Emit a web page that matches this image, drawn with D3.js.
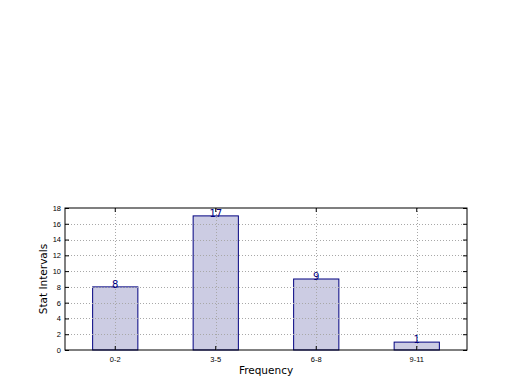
<!DOCTYPE html>
<html>
<head>
<meta charset="utf-8">
<script src="https://cdn.jsdelivr.net/npm/d3@7"></script>
<style>
  body { margin: 0; background: #fff; }
  svg { font-family: "DejaVu Sans", sans-serif; }
</style>
</head>
<body>
<div id="chart"></div>
<script>
// data
var categories = ["0-2", "3-5", "6-8", "9-11"];
var counts = [8, 17, 9, 1];
var yTicks = [0, 2, 4, 6, 8, 10, 12, 14, 16, 18];

var margin = {top: 208, right: 53, bottom: 40, left: 65},
    width = 520 - margin.left - margin.right,
    height = 390 - margin.top - margin.bottom;

var svg = d3.select("#chart")
  .append("svg")
    .attr("width", 520)
    .attr("height", 390)
  .append("g")
    .attr("transform", "translate(" + margin.left + "," + margin.top + ")");

// x as band over the 4 categories, bars 45% of a slot
var x = d3.scaleBand()
  .domain(categories)
  .range([0, width])
  .paddingInner(0)
  .paddingOuter(0);

var y = d3.scaleLinear()
  .domain([0, 18])
  .range([height, 0]);

var barW = x.bandwidth() * 0.45;

// bars
svg.append("g")
  .selectAll("rect")
  .data(counts)
  .enter()
  .append("rect")
    .attr("x", (d, i) => x(categories[i]) + x.bandwidth() / 2 - barW / 2)
    .attr("y", d => y(d))
    .attr("width", barW)
    .attr("height", d => height - y(d))
    .style("fill", "#ccccE3")
    .style("stroke", "#000080")
    .style("stroke-width", 1);

// grid over bars, dotted
var grid = svg.append("g");
grid.selectAll(".hg")
  .data(yTicks.slice(1, -1))
  .enter()
  .append("line")
    .attr("x1", 0).attr("x2", width)
    .attr("y1", d => Math.round(y(d)) + 0.5).attr("y2", d => Math.round(y(d)) + 0.5)
    .style("stroke", "#a8a8a8")
    .style("stroke-dasharray", "1,2");
grid.selectAll(".vg")
  .data(categories)
  .enter()
  .append("line")
    .attr("x1", d => Math.round(x(d) + x.bandwidth() / 2) + 0.5)
    .attr("x2", d => Math.round(x(d) + x.bandwidth() / 2) + 0.5)
    .attr("y1", 0).attr("y2", height)
    .style("stroke", "#a8a8a8")
    .style("stroke-dasharray", "1,2");

// value labels
svg.append("g")
  .selectAll("text")
  .data(counts)
  .enter()
  .append("text")
    .attr("x", (d, i) => x(categories[i]) + x.bandwidth() / 2)
    .attr("y", d => y(d) + 1)
    .attr("text-anchor", "middle")
    .style("font-size", "10px")
    .style("fill", "#000080")
    .text(d => d);

// y axis (left), ticks inside
var yAxis = svg.append("g")
  .call(d3.axisLeft(y).tickValues(yTicks).tickSizeInner(-4).tickSizeOuter(0).tickPadding(4));
yAxis.selectAll("text").style("font-size", "7.5px").style("fill", "#000");

// y axis (right) ticks only
svg.append("g")
  .attr("transform", "translate(" + width + ",0)")
  .call(d3.axisRight(y).tickValues(yTicks).tickSizeInner(-4).tickSizeOuter(0).tickFormat(""));

// x axis bottom, ticks inside
var xAxis = svg.append("g")
  .attr("transform", "translate(0," + height + ")")
  .call(d3.axisBottom(x).tickSizeInner(-4).tickSizeOuter(0).tickPadding(7));
xAxis.selectAll("text").style("font-size", "7.5px").style("fill", "#000");

// top axis ticks only
svg.append("g")
  .call(d3.axisTop(x).tickSizeInner(-4).tickSizeOuter(0).tickFormat(""));

svg.selectAll(".domain").remove();

// frame
svg.append("rect")
  .attr("width", width)
  .attr("height", height)
  .style("fill", "none")
  .style("stroke", "#000")
  .style("stroke-width", 1);

// axis labels
svg.append("text")
  .attr("x", width / 2)
  .attr("y", height + 24)
  .attr("text-anchor", "middle")
  .style("font-size", "10.5px")
  .text("Frequency");

svg.append("text")
  .attr("transform", "translate(-18," + height / 2 + ") rotate(-90)")
  .attr("text-anchor", "middle")
  .style("font-size", "10.5px")
  .text("Stat Intervals");
</script>
</body>
</html>
